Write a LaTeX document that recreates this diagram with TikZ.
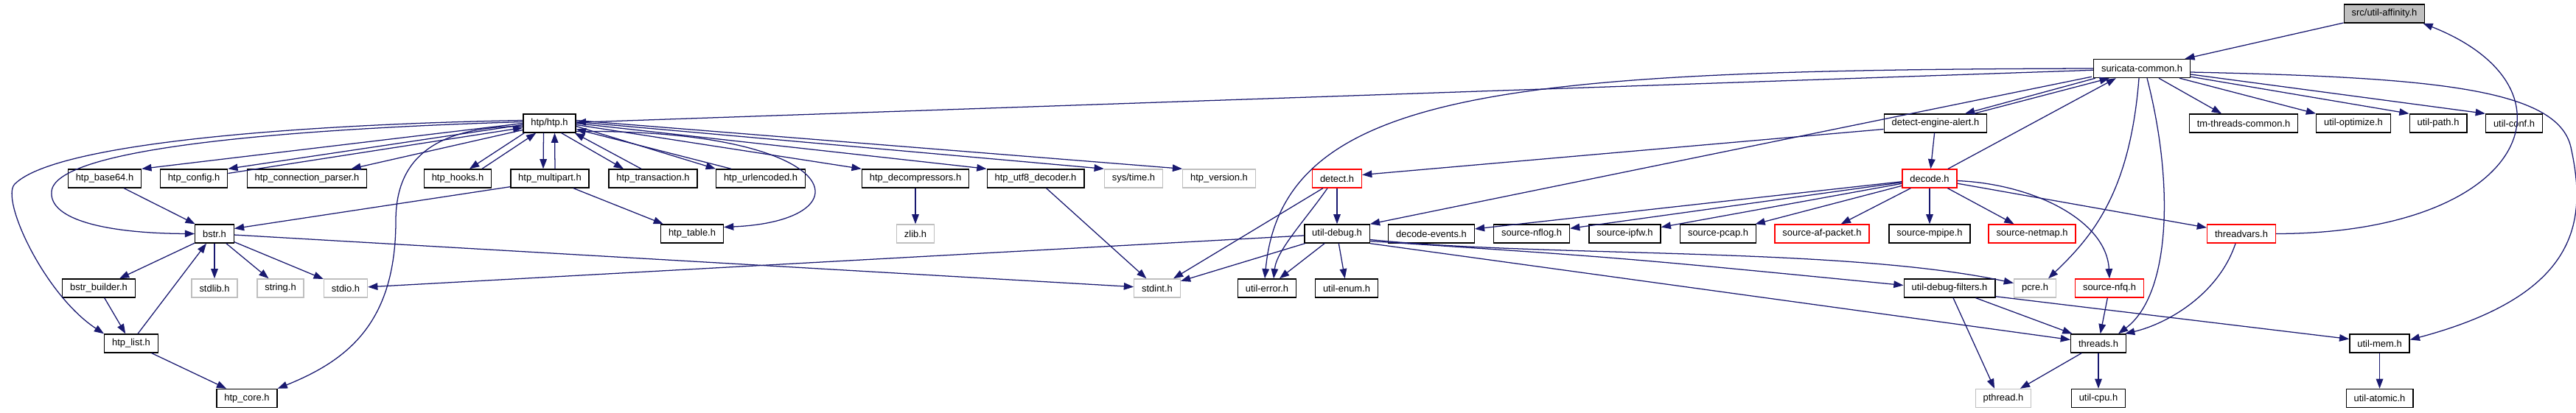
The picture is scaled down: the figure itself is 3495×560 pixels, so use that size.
\documentclass[tikz,border=0pt]{standalone}
\usepackage{fontspec}
\setmainfont{Liberation Sans}
\usetikzlibrary{arrows.meta,calc}
\definecolor{edgeblue}{RGB}{25,25,112}
\definecolor{nodoc}{RGB}{191,191,191}

\begin{document}
\begin{tikzpicture}[x=0.025cm, y=-0.025cm, every node/.style={font=\fontsize{9.2}{11}\selectfont}, >={Triangle[length=3.3mm,width=2.4mm]},
	filebox/.style={draw=black, fill=white, line width=1pt, minimum height=0.625cm, inner xsep=0.26cm, inner ysep=0pt},
	sysbox/.style={filebox, draw=nodoc},
	redbox/.style={filebox, draw=red},
	rootbox/.style={filebox, fill=nodoc},
	inc/.style={->, edgeblue, line width=0.9pt}]
	\useasboundingbox (0,0) rectangle (3495,560);
	% headers, row by row
	\node[rootbox] (affinity) at (3235,18.5) {src/util-affinity.h};
	\node[filebox] (common) at (2906,93) {suricata-common.h};
	\node[filebox] (htp) at (745.5,167.5) {htp/htp.h};
	\node[filebox] (alert) at (2626,167.5) {detect-engine-alert.h};
	\node[filebox] (tmcommon) at (3044,167.5) {tm-threads-common.h};
	\node[filebox] (optimize) at (3193,167.5) {util-optimize.h};
	\node[filebox] (upath) at (3308,167.5) {util-path.h};
	\node[filebox] (uconf) at (3411,167.5) {util-conf.h};
	\node[filebox] (base64) at (142,242.5) {htp\_base64.h};
	\node[filebox] (config) at (263,242.5) {htp\_config.h};
	\node[filebox] (connparser) at (416.5,242.5) {htp\_connection\_parser.h};
	\node[filebox] (hooks) at (621,242.5) {htp\_hooks.h};
	\node[filebox] (multipart) at (746,242.5) {htp\_multipart.h};
	\node[filebox] (transaction) at (886,242.5) {htp\_transaction.h};
	\node[filebox] (urlenc) at (1032,242.5) {htp\_urlencoded.h};
	\node[filebox] (decomp) at (1242,242.5) {htp\_decompressors.h};
	\node[filebox] (utf8) at (1405,242.5) {htp\_utf8\_decoder.h};
	\node[sysbox] (systime) at (1538,242.5) {sys/time.h};
	\node[sysbox] (version) at (1654,242.5) {htp\_version.h};
	\node[redbox] (detect) at (1814,242.5) {detect.h};
	\node[redbox] (decode) at (2618,242.5) {decode.h};
	\node[filebox] (bstr) at (291,317.5) {bstr.h};
	\node[filebox] (table) at (939,317.5) {htp\_table.h};
	\node[sysbox] (zlib) at (1242,317.5) {zlib.h};
	\node[filebox] (udebug) at (1814,317.5) {util-debug.h};
	\node[filebox] (events) at (1942,317.5) {decode-events.h};
	\node[filebox] (nflog) at (2078,317.5) {source-nflog.h};
	\node[filebox] (ipfw) at (2204.5,317.5) {source-ipfw.h};
	\node[filebox] (pcap) at (2331,317.5) {source-pcap.h};
	\node[redbox] (afpacket) at (2472,317.5) {source-af-packet.h};
	\node[filebox] (mpipe) at (2618,317.5) {source-mpipe.h};
	\node[redbox] (netmap) at (2757,317.5) {source-netmap.h};
	\node[redbox] (threadvars) at (3041,317.5) {threadvars.h};
	\node[filebox] (builder) at (134,391.5) {bstr\_builder.h};
	\node[sysbox] (stdlib) at (291,391.5) {stdlib.h};
	\node[sysbox] (string) at (380.5,391.5) {string.h};
	\node[sysbox] (stdio) at (469,391.5) {stdio.h};
	\node[sysbox] (stdint) at (1570,391.5) {stdint.h};
	\node[filebox] (uerror) at (1719,391.5) {util-error.h};
	\node[filebox] (uenum) at (1827,391.5) {util-enum.h};
	\node[filebox] (filters) at (2645,391.5) {util-debug-filters.h};
	\node[sysbox] (pcre) at (2761,391.5) {pcre.h};
	\node[redbox] (nfq) at (2862,391.5) {source-nfq.h};
	\node[filebox] (list) at (178,466.5) {htp\_list.h};
	\node[filebox] (threads) at (2847,466.5) {threads.h};
	\node[filebox] (umem) at (3228.5,466.5) {util-mem.h};
	\node[filebox] (core) at (335,541) {htp\_core.h};
	\node[sysbox] (pthread) at (2718,541) {pthread.h};
	\node[filebox] (cpu) at (2847,541) {util-cpu.h};
	\node[filebox] (atomic) at (3228.5,541) {util-atomic.h};
	% suricata-common.h
	\draw[inc] (affinity) -- (common);
	\draw[inc] (common) -- (htp);
	\draw[inc] (common.west) .. controls (2050,95) and (1740,120) .. ($(uerror.north)+(-3,0)$);
	\draw[inc] ($(common.south west)+(-2,-2)$) -- (udebug.north east);
	\draw[inc] ($(common.south west)+(3,0)$) -- ($(alert.north)+(40,0)$);
	\draw[inc] ($(alert.north)+(52,0)$) -- ($(common.south west)+(22,0)$);
	\draw[inc] ($(decode.north)+(25,0)$) -- ($(common.south west)+(31,0)$);
	\draw[inc] ($(common.south)+(23,0)$) -- ($(tmcommon.north)+(-30,0)$);
	\draw[inc] ($(common.south east)+(-15,0)$) -- (optimize.north west);
	\draw[inc] ($(common.south east)+(0,-2)$) -- (upath.north west);
	\draw[inc] ($(common.east)+(0,8)$) -- (uconf.north west);
	\draw[inc] ($(common.south)+(-4,0)$) .. controls (2890,260) and (2840,320) .. ($(pcre.north)+(18,0)$);
	\draw[inc] ($(common.south)+(7,0)$) .. controls (2950,250) and (2945,400) .. ($(threads.north)+(27,0)$);
	\draw[inc] ($(common.east)+(0,5)$) .. controls (3300,105) and (3470,120) .. (3488,200) .. controls (3510,300) and (3500,400) .. ($(umem.east)+(0,-5)$);
	% threadvars.h
	\draw[inc] (threadvars.east) .. controls (3430,317) and (3510,120) .. ($(affinity.south east)+(-3,0)$);
	\draw[inc] ($(threadvars.south)+(-8,0)$) .. controls (3010,400) and (2940,440) .. ($(threads.north east)+(-2,0)$);
	% decode.h
	\draw[inc] (alert) -- (decode);
	\draw[inc] ($(alert.west)+(0,8)$) -- ($(detect.east)+(0,-5)$);
	\draw[inc] (decode) -- (threadvars);
	\draw[inc] (decode) -- (events);
	\draw[inc] (decode) -- (nflog);
	\draw[inc] (decode) -- (ipfw);
	\draw[inc] (decode) -- (pcap);
	\draw[inc] (decode) -- (afpacket);
	\draw[inc] (decode) -- (mpipe);
	\draw[inc] (decode) -- (netmap);
	\draw[inc] ($(decode.east)+(0,3)$) .. controls (2760,250) and (2858,300) .. (nfq.north);
	\draw[inc] (nfq) -- (threads);
	% detect.h and util-debug.h
	\draw[inc] (detect) -- (udebug);
	\draw[inc] ($(detect.south)+(-13,0)$) .. controls (1770,300) and (1732,340) .. ($(uerror.north)+(9,0)$);
	\draw[inc] ($(detect.south west)+(15,0)$) -- ($(stdint.north)+(22,0)$);
	\draw[inc] (udebug) -- (uerror);
	\draw[inc] (udebug) -- (uenum);
	\draw[inc] (udebug) -- (stdint);
	\draw[inc] (udebug) -- (stdio);
	\draw[inc] ($(udebug.east)+(0,10)$) .. controls (2200,350) .. ($(filters.west)+(0,-4)$);
	\draw[inc] ($(udebug.east)+(0,8)$) .. controls (2100,350) and (2500,335) .. ($(pcre.west)+(0,-7)$);
	\draw[inc] (udebug.south east) -- ($(threads.west)+(0,-5)$);
	\draw[inc] (filters) -- (threads);
	\draw[inc] ($(filters.south)+(5,0)$) -- ($(pthread.north)+(-12,0)$);
	\draw[inc] ($(filters.south east)+(0,-2)$) -- ($(umem.west)+(0,-6)$);
	\draw[inc] (threads) -- (pthread);
	\draw[inc] (threads) -- (cpu);
	\draw[inc] (umem) -- (atomic);
	% htp/htp.h
	\draw[inc] (htp.west) -- (base64.north east);
	\draw[inc] ($(htp.west)+(0,2)$) -- (config.north east);
	\draw[inc] ($(config.east)+(0,-7)$) -- ($(htp.west)+(0,6)$);
	\draw[inc] ($(htp.west)+(0,9)$) -- ($(connparser.north)+(60,0)$);
	\draw[inc] ($(htp.south west)+(2,0)$) -- ($(hooks.north)+(16,0)$);
	\draw[inc] ($(hooks.north)+(33,0)$) -- ($(htp.south west)+(18,0)$);
	\draw[inc] ($(htp.south)+(-8,0)$) -- ($(multipart.north)+(-9,0)$);
	\draw[inc] ($(multipart.north)+(7,0)$) -- ($(htp.south)+(7,0)$);
	\draw[inc] ($(htp.south east)+(-20,0)$) -- ($(transaction.north)+(-40,0)$);
	\draw[inc] ($(transaction.north)+(-16,0)$) -- ($(htp.south east)+(-2,0)$);
	\draw[inc] ($(htp.east)+(0,4)$) -- (urlenc.north west);
	\draw[inc] ($(urlenc.north)+(-40,0)$) -- ($(htp.east)+(0,8)$);
	\draw[inc] ($(htp.east)+(0,2)$) -- (decomp.north west);
	\draw[inc] (htp.east) -- (utf8.north west);
	\draw[inc] ($(htp.east)+(0,-2)$) -- (systime.north west);
	\draw[inc] ($(htp.east)+(0,-4)$) -- (version.north west);
	\draw[inc] ($(htp.east)+(0,11)$) .. controls (1150,175) and (1180,300) .. ($(table.east)+(0,-9)$);
	\draw[inc] ($(htp.west)+(0,4)$) .. controls (590,172) and (537,215) .. (537,300) .. controls (537,440) and (470,490) .. (core.north east);
	\draw[inc] ($(htp.west)+(0,-2)$) .. controls (400,175) and (75,200) .. (70,260) .. controls (66,300) and (150,317) .. (bstr.west);
	\draw[inc] ($(htp.west)+(0,-4)$) .. controls (450,168) and (80,190) .. (20,250) .. controls (0,270) and (60,400) .. (list.north west);
	% htp helpers
	\draw[inc] (base64) -- (bstr);
	\draw[inc] ($(multipart.south west)+(0,-2)$) -- ($(bstr.east)+(0,-7)$);
	\draw[inc] ($(multipart.south)+(32,0)$) -- ($(table.north west)+(4,0)$);
	\draw[inc] (bstr) -- (builder);
	\draw[inc] (bstr) -- (stdlib);
	\draw[inc] (bstr) -- (string);
	\draw[inc] (bstr) -- (stdio);
	\draw[inc] (bstr) -- (stdint);
	\draw[inc] (builder) -- (list);
	\draw[inc] ($(list.north)+(9,0)$) -- ($(bstr.south)+(-11,0)$);
	\draw[inc] (list) -- (core);
	\draw[inc] (utf8) -- (stdint);
	\draw[inc] (decomp) -- (zlib);
\end{tikzpicture}
\end{document}
